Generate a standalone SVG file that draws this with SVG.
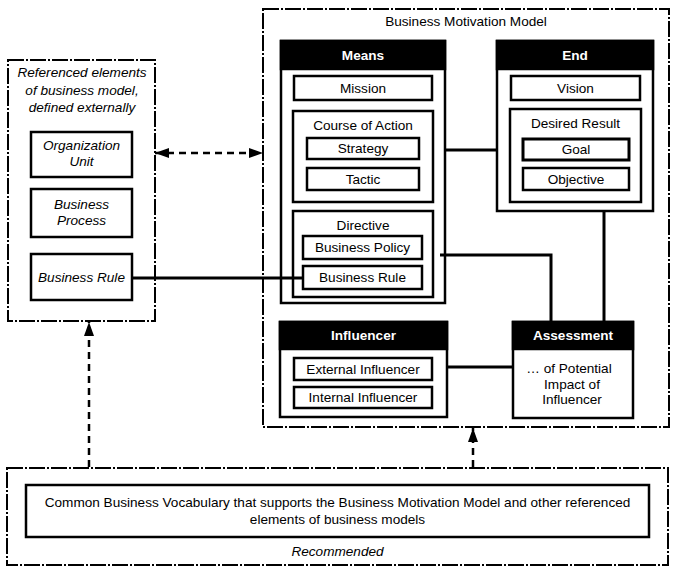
<svg xmlns="http://www.w3.org/2000/svg" width="677" height="573" viewBox="0 0 677 573">
<style>
text{font-family:"Liberation Sans",Arial,sans-serif;font-size:13.6px;fill:#000;text-anchor:middle}
.it{font-style:italic}
.hd{font-weight:bold;fill:#fff}
.bx{fill:#fff;stroke:#000;stroke-width:2.5}
.hb{fill:#000;stroke:#000;stroke-width:2.5}
.dd{fill:none;stroke:#000;stroke-width:2;stroke-dasharray:16 2 2 2}
.cn{fill:none;stroke:#000;stroke-width:3}
.da{fill:none;stroke:#000;stroke-width:2.5;stroke-dasharray:7 5}
</style>
<defs>
<marker id="ah" viewBox="0 0 14 10" refX="14" refY="5" markerWidth="14" markerHeight="10" orient="auto-start-reverse" markerUnits="userSpaceOnUse"><path d="M0,0 L14,5 L0,10 z" fill="#000"/></marker>
</defs>
<rect width="677" height="573" fill="#fff"/>

<g id="external">
<rect class="dd" x="8" y="60" width="147" height="261"/>
<text class="it" x="82" y="77">Referenced elements</text>
<text class="it" x="82" y="95">of business model,</text>
<text class="it" x="82" y="112">defined externally</text>
</g>
<g id="org-unit"><rect class="bx" x="31" y="132" width="101" height="45"/><text class="it" x="81.5" y="150">Organization</text><text class="it" x="81.5" y="166">Unit</text></g>
<g id="business-process"><rect class="bx" x="31" y="189" width="101" height="48"/><text class="it" x="81.5" y="209">Business</text><text class="it" x="81.5" y="225">Process</text></g>
<g id="business-rule-ext"><rect class="bx" x="31" y="254" width="101" height="46"/><text class="it" x="81.5" y="282">Business Rule</text></g>

<g id="bmm">
<rect class="dd" x="263" y="9" width="406" height="418"/>
<text x="466" y="26">Business Motivation Model</text>
</g>

<g id="means">
<rect class="bx" x="281" y="41" width="164" height="262"/>
<rect class="hb" x="281" y="41" width="164" height="28"/>
<text class="hd" x="363" y="60">Means</text>
</g>
<g id="mission"><rect class="bx" x="294" y="76" width="138" height="24"/><text x="363" y="93">Mission</text></g>
<g id="course-of-action"><rect class="bx" x="293" y="111" width="140" height="91"/><text x="363" y="130">Course of Action</text></g>
<g id="strategy"><rect class="bx" x="307" y="138" width="112" height="21"/><text x="363" y="153">Strategy</text></g>
<g id="tactic"><rect class="bx" x="307" y="168" width="112" height="22"/><text x="363" y="184">Tactic</text></g>
<g id="directive"><rect class="bx" x="293" y="211" width="140" height="86"/><text x="363" y="230">Directive</text></g>
<g id="business-policy"><rect class="bx" x="303" y="236" width="119" height="23"/><text x="362.5" y="252">Business Policy</text></g>
<g id="business-rule"><rect class="bx" x="303" y="266" width="119" height="23"/><text x="362.5" y="282">Business Rule</text></g>

<g id="end">
<rect class="bx" x="497" y="41" width="156" height="170"/>
<rect class="hb" x="497" y="41" width="156" height="28"/>
<text class="hd" x="575" y="60">End</text>
</g>
<g id="vision"><rect class="bx" x="511" y="76" width="129" height="24"/><text x="575.5" y="93">Vision</text></g>
<g id="desired-result"><rect class="bx" x="510" y="109" width="131" height="93"/><text x="575.5" y="128">Desired Result</text></g>
<g id="goal"><rect class="bx" x="523" y="139" width="106" height="21" style="stroke-width:3"/><text x="576" y="154">Goal</text></g>
<g id="objective"><rect class="bx" x="523" y="168" width="106" height="22"/><text x="576" y="184">Objective</text></g>

<g id="influencer">
<rect class="bx" x="280" y="322" width="167" height="95"/>
<rect class="hb" x="280" y="322" width="167" height="27"/>
<text class="hd" x="363.5" y="340">Influencer</text>
</g>
<g id="external-influencer"><rect class="bx" x="294" y="358" width="138" height="22"/><text x="363" y="374">External Influencer</text></g>
<g id="internal-influencer"><rect class="bx" x="294" y="387" width="138" height="21"/><text x="363" y="402">Internal Influencer</text></g>

<g id="assessment">
<rect class="bx" x="513" y="322" width="120" height="96"/>
<rect class="hb" x="513" y="322" width="120" height="27"/>
<text class="hd" x="573" y="340">Assessment</text>
<text x="569" y="373">… of Potential</text>
<text x="572" y="388.5">Impact of</text>
<text x="572" y="404">Influencer</text>
</g>

<g id="vocabulary">
<rect class="dd" x="7" y="468" width="661" height="97"/>
<rect class="bx" x="26" y="485" width="623" height="52"/>
<text x="337.5" y="507">Common Business Vocabulary that supports the Business Motivation Model and other referenced</text>
<text x="337.5" y="524">elements of business models</text>
<text class="it" x="337.5" y="556">Recommended</text>
</g>

<g id="connectors">
<path class="cn" d="M445 150 H497"/>
<path class="cn" d="M440 255 H551 V322"/>
<path class="cn" d="M604 211 V322"/>
<path class="cn" d="M447 367 H513"/>
<path class="cn" d="M132 278 H303"/>
<path class="da" d="M155 153 H263" marker-start="url(#ah)" marker-end="url(#ah)"/>
<path class="da" d="M89 467 V322" marker-end="url(#ah)"/>
<path class="da" d="M473 467 V428" marker-end="url(#ah)"/>
</g>
</svg>
